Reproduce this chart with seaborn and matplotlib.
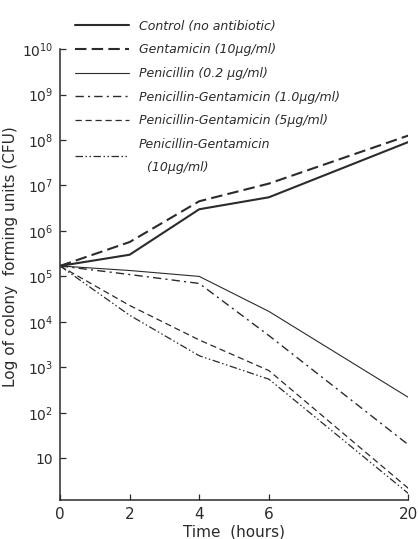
import numpy as np
import pandas as pd
import seaborn as sns
import matplotlib.pyplot as plt

# Data (CFU per ml)
hours = [0, 2, 4, 6, 20]
control = [1.7e5, 3.0e5, 3.0e6, 5.5e6, 9.0e7]
gentamicin = [1.7e5, 5.7e5, 4.5e6, 1.1e7, 1.25e8]
penicillin = [1.7e5, 1.35e5, 1.0e5, 1.7e4, 2.2e2]
pen_gen_1 = [1.7e5, 1.1e5, 7.0e4, 5.0e3, 20]
pen_gen_5 = [1.7e5, 2.3e4, 4.0e3, 8.5e2, 2.2]
pen_gen_10 = [1.7e5, 1.4e4, 1.8e3, 5.5e2, 1.7]

labels = ['Control (no antibiotic)',
          'Gentamicin (10µg/ml)',
          'Penicillin (0.2 µg/ml)',
          'Penicillin-Gentamicin (1.0µg/ml)',
          'Penicillin-Gentamicin (5µg/ml)',
          'Penicillin-Gentamicin\n  (10µg/ml)']
series = [control, gentamicin, penicillin, pen_gen_1, pen_gen_5, pen_gen_10]
widths = [1.5, 1.5, 0.8, 1.0, 0.9, 0.9]
styles = ['-', (0, (5.5, 2.5)), '-', (0, (6, 3, 1.5, 3)), (0, (5, 3)), (0, (6, 2, 1.2, 2, 1.2, 2))]

sns.set_style('ticks')
plt.rcParams['font.family'] = ['DejaVu Sans']
ink = '#2b2b2b'

fig = plt.figure(figsize=(4.18, 5.39), dpi=100)
ax = fig.add_axes([0.1435, 0.072, 0.833, 0.837])


# time axis is compressed after 6 hours
def fwd(h):
    h = np.asarray(h, dtype=float)
    return np.where(h <= 6, h, 6 + (h - 6) * 4 / 14)


def inv(p):
    p = np.asarray(p, dtype=float)
    return np.where(p <= 6, p, 6 + (p - 6) * 14 / 4)


for vals, lab, lw, ls in zip(series, labels, widths, styles):
    sns.lineplot(x=hours, y=vals, ax=ax, color=ink, linewidth=lw, linestyle=ls, label=lab)

ax.set_xscale('function', functions=(fwd, inv))
ax.set_yscale('log')
ax.set_xlim(0, 20)
ax.set_ylim(1.2, 1e10)

ax.set_xticks(hours)
ax.set_xticklabels([str(h) for h in hours], fontsize=11, color=ink)
yt = [10 ** k for k in range(1, 11)]
ax.set_yticks(yt)
ax.set_yticklabels(['10'] + [f'$10^{{{k}}}$' for k in range(2, 11)], fontsize=10, color=ink)
ax.yaxis.set_minor_locator(plt.NullLocator())
ax.tick_params(direction='in', length=4, width=0.9, colors=ink, pad=5)

sns.despine(ax=ax)
for s in ['left', 'bottom']:
    ax.spines[s].set_color(ink)
    ax.spines[s].set_linewidth(1.1)

ax.set_xlabel('Time  (hours)', fontsize=11, color=ink, labelpad=2)
ax.set_ylabel('Log of colony  forming units (CFU)', fontsize=11, color=ink)
ax.yaxis.set_label_coords(-0.12, 0.54)

ax.get_legend().remove()
handles, labs = ax.get_legend_handles_labels()
leg = fig.legend(handles, labs, loc='upper left', bbox_to_anchor=(0.165, 0.975),
                 frameon=False, fontsize=9, handlelength=4.3, handletextpad=0.8,
                 labelspacing=0.85, borderpad=0)
for t in leg.get_texts():
    t.set_style('italic')
    t.set_color(ink)
leg.get_texts()[-1].set_linespacing(2.0)

fig.savefig('out.png', dpi=100)
